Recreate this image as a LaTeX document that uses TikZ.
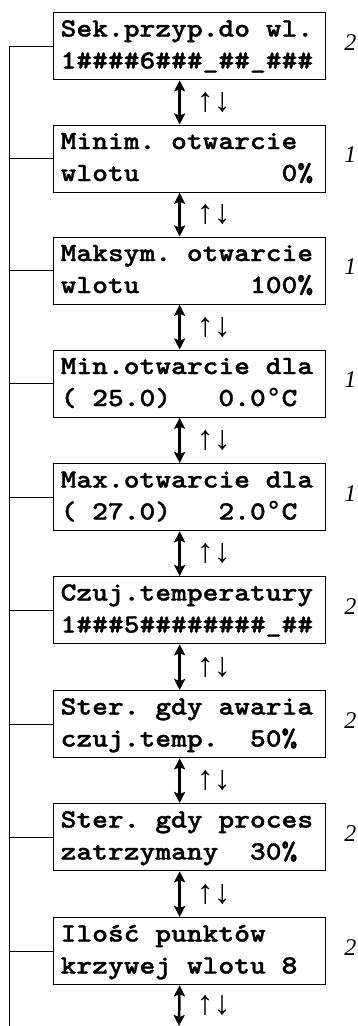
\documentclass[tikz,border=0pt]{standalone}
\usepackage{fontspec}
\usetikzlibrary{arrows.meta,calc}
\newfontfamily\lcdfont{lmmonolt10-bold.otf}[FakeStretch=1.143,FakeBold=1.2]
\newfontfamily\degfont{Liberation Mono}
\newfontfamily\labfont{Liberation Serif}
\newcommand\lcdsetup{\lcdfont\fontsize{26.3}{32}\selectfont}
\newcommand\lcdspaces{\spaceskip=\fontcharwd\font`\0\relax\xspaceskip=\spaceskip}
\newcommand\lcddeg{{\degfont\bfseries °}}
\begin{document}
\begin{tikzpicture}[x=1pt,y=-1pt,
  screen/.style={draw,line width=1.3pt,anchor=north west,inner xsep=7pt,inner ysep=0pt,
    minimum height=67pt,text width=258pt,align=left,font=\lcdsetup,
    execute at begin node=\lcdspaces},
  lvl/.style={font=\labfont\itshape\fontsize{24}{26}\selectfont,inner sep=0pt},
  nav/.style={line width=2.5pt,{Stealth[length=11pt,width=11pt,inset=2pt]}-{Stealth[length=11pt,width=11pt,inset=2pt]}},
  navlab/.style={font=\labfont\fontsize{34}{36}\selectfont,inner sep=0pt,anchor=west},
  bus/.style={line width=1.3pt}]
\useasboundingbox (0,0) rectangle (357,1026);
\node[screen] (b1) at (53,12)    {\strut Sek.przyp.do wl.\\\strut 1\#\#\#\#6\#\#\#\_\#\#\_\#\#\#};
\node[screen] (b2) at (53,124.5) {\strut Minim. otwarcie\\\strut wlotu~~~~~~~~~0\%};
\node[screen] (b3) at (53,236.5) {\strut Maksym. otwarcie\\\strut wlotu~~~~~~~100\%};
\node[screen] (b4) at (53,349.5) {\strut Min.otwarcie dla\\\strut (~25.0)~~~0.0\lcddeg C};
\node[screen] (b5) at (53,463)   {\strut Max.otwarcie dla\\\strut (~27.0)~~~2.0\lcddeg C};
\node[screen] (b6) at (53,576)   {\strut Czuj.temperatury\\\strut 1\#\#\#5\#\#\#\#\#\#\#\#\_\#\#};
\node[screen] (b7) at (53,690)   {\strut Ster. gdy awaria\\\strut czuj.temp.~~50\%};
\node[screen] (b8) at (53,803)   {\strut Ster. gdy proces\\\strut zatrzymany~~30\%};
\node[screen] (b9) at (53,917)   {\strut Ilość punktów\\\strut krzywej wlotu 8};
\foreach \b/\n in {b1/2,b2/1,b3/1,b4/1,b5/1,b6/2,b7/2,b8/2,b9/2}
  \node[lvl] (l\b) at ([xshift=24pt,yshift=4pt]\b.east) {\n};
\coordinate (L) at (9.5,1026);
\coordinate (E) at (179,1026);
\draw[bus] (b1.west) -- (b1.west -| L) -- (L);
\foreach \b in {b2,b3,b4,b5,b6,b7,b8,b9}
  \draw[bus] (\b.west) -- (\b.west -| L);
\foreach \a/\c in {b1/b2,b2/b3,b3/b4,b4/b5,b5/b6,b6/b7,b7/b8,b8/b9}
  \draw[nav] ([xshift=-10pt]\a.south) -- node[navlab,right=16pt] (t\a) {↑↓} ([xshift=-10pt]\c.north);
\draw[nav] ([xshift=-10pt]b9.south) -- node[navlab,right=16pt] (tb9) {↑↓} (E);
\end{tikzpicture}
\end{document}
